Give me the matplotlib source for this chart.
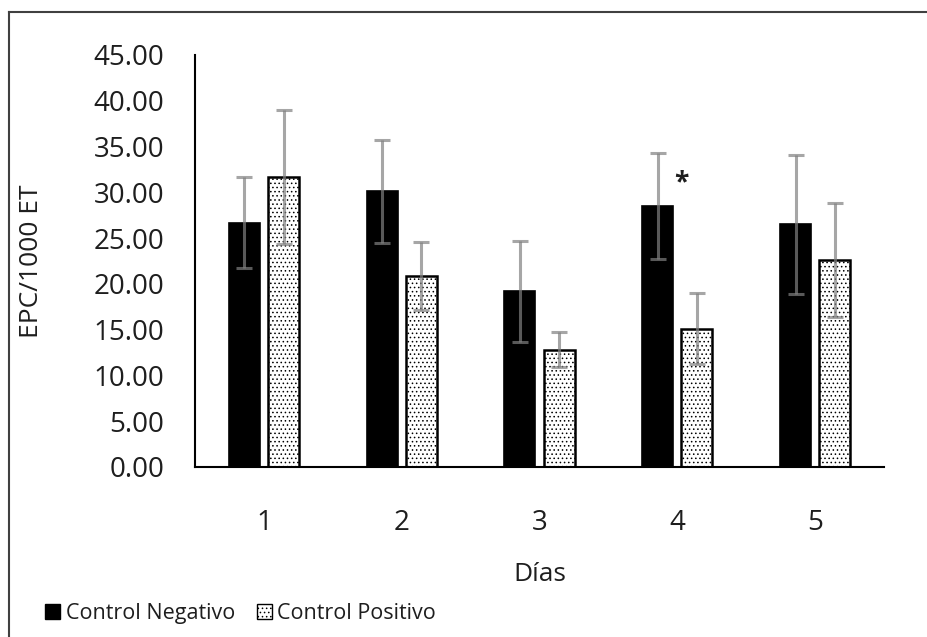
import numpy as np
import matplotlib.pyplot as plt
from matplotlib.patches import Patch
from matplotlib.lines import Line2D

# Data
dias = ['1', '2', '3', '4', '5']
neg_mean = [26.7, 30.1, 19.2, 28.5, 26.5]
neg_err = [5.0, 5.6, 5.5, 5.8, 7.6]
pos_mean = [31.7, 20.9, 12.8, 15.1, 22.6]
pos_err = [7.3, 3.7, 1.9, 3.9, 6.2]
yticks = np.arange(0, 46, 5)

plt.rcParams['font.family'] = ['Open Sans', 'DejaVu Sans']
plt.rcParams['hatch.linewidth'] = 0.6
txt = '#1e1e1e'

fig = plt.figure(figsize=(9.27, 6.37), dpi=100)
ax = fig.add_axes([0.2104, 0.2669, 0.7432, 0.6468])

x = np.arange(len(dias))
w = 0.225
off = 0.142

ax.bar(x - off, neg_mean, w, color='black', edgecolor='black', linewidth=1.2, zorder=2)
ax.bar(x + off, pos_mean, w, color='white', edgecolor='black', linewidth=1.8,
       hatch='....', zorder=2)

# error bars (grey, semi transparent like Excel)
ekw = dict(fmt='none', ecolor=(0.5, 0.5, 0.5), elinewidth=2.2, capsize=6, capthick=2.2,
           alpha=0.7, zorder=3)
ax.errorbar(x - off, neg_mean, yerr=neg_err, **ekw)
ax.errorbar(x + off, pos_mean, yerr=pos_err, **ekw)

# significance mark
ax.text(3 + 0.03, 31.0, '*', ha='center', va='center', fontsize=19,
        fontweight='bold', color=txt)

ax.set_xlim(-0.5, 4.5)
ax.set_ylim(0, 45)
ax.set_yticks(yticks)
ax.set_yticklabels(['%.2f' % v for v in yticks])
ax.set_xticks(x)
ax.set_xticklabels(dias)
ax.tick_params(length=0, labelsize=20, colors=txt)
ax.tick_params(axis='y', pad=22)
ax.tick_params(axis='x', pad=30)
for s in ['top', 'right']:
    ax.spines[s].set_visible(False)
for s in ['left', 'bottom']:
    ax.spines[s].set_linewidth(1.5)
    ax.spines[s].set_color('black')

ax.set_xlabel('Días', fontsize=19, color=txt, labelpad=18)
ax.set_ylabel('EPC/1000 ET', fontsize=19, color=txt, labelpad=36)

handles = [Patch(facecolor='black', edgecolor='black'),
           Patch(facecolor='white', edgecolor='black', hatch='....')]
fig.legend(handles, ['Control Negativo', 'Control Positivo'], loc='center left',
           bbox_to_anchor=(0.028, 0.037), ncol=2, frameon=False, fontsize=15.5,
           handlelength=0.7, handleheight=0.7, handletextpad=0.25, columnspacing=1.0,
           labelcolor=txt)

# outer frame of the picture
fig.add_artist(Line2D([9 / 927, 9 / 927], [0, 1 - 12 / 637], color='#404040', lw=1.5))
fig.add_artist(Line2D([9 / 927, 1], [1 - 12 / 637, 1 - 12 / 637], color='#404040', lw=1.5))

plt.savefig('out.png')
